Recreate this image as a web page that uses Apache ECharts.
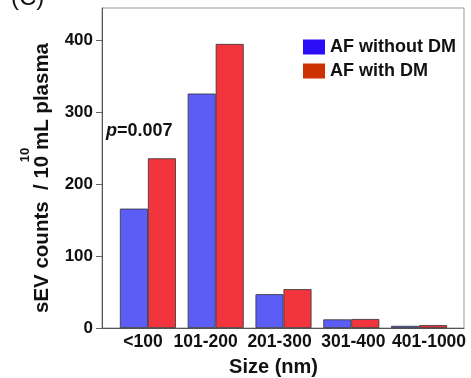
<!DOCTYPE html>
<html>
<head>
<meta charset="utf-8">
<script src="https://cdn.jsdelivr.net/npm/echarts@6/dist/echarts.min.js"></script>
<style>
  html, body { margin: 0; padding: 0; background: #fff; }
  #chart { width: 471px; height: 378px; }
</style>
</head>
<body>
<div id="chart"></div>
<script>
// size bins and the two groups
const categories = ["<100", "101-200", "201-300", "301-400", "401-1000"];
const withoutDM = [166, 326, 47, 12, 3];
const withDM = [236, 395, 54, 12.5, 4];
const yTicks = [0, 100, 200, 300, 400];

// in the original the bin labels are typed as one spaced string, so they sit a bit off the bars
const labelShift = [-5, -10, -4, 2, 10];

const FONT = "Liberation Sans, Arial, sans-serif";

const chart = echarts.init(document.getElementById("chart"), null, { renderer: "canvas" });

const option = {
  animation: false,
  textStyle: { fontFamily: FONT },
  grid: [
    // frame + y axis
    { left: 102, right: 7, top: 8, bottom: 50, show: true, borderColor: "#999", borderWidth: 1,
      backgroundColor: "transparent", outerBoundsMode: "none" },
    // bars (inset a bit from the frame)
    { left: 114, right: 18, top: 8, bottom: 50, outerBoundsMode: "none" }
  ],
  legend: {
    orient: "vertical",
    left: 298,
    top: 33,
    itemWidth: 22,
    itemHeight: 15,
    itemGap: 6,
    icon: "rect",
    textStyle: { fontFamily: FONT, fontSize: 18, fontWeight: "bold", color: "#111", lineHeight: 18 },
    data: [
      { name: "AF without DM", itemStyle: { color: "#2a0cf6", borderWidth: 0 } },
      { name: "AF with DM", itemStyle: { color: "#cc3300", borderWidth: 0 } }
    ]
  },
  xAxis: [
    {
      gridIndex: 0, type: "value", min: 0, max: 1,
      axisLine: { show: true, lineStyle: { color: "#555", width: 1 } },
      axisTick: { show: false }, axisLabel: { show: false }, splitLine: { show: false }
    },
    {
      gridIndex: 1, type: "category",
      data: categories.map(function (c, i) {
        const d = labelShift[i];
        return { value: c, textStyle: { padding: d > 0 ? [0, 0, 0, 2 * d] : [0, -2 * d, 0, 0] } };
      }),
      axisLine: { show: false }, axisTick: { show: false },
      axisLabel: { interval: 0, margin: 5, fontFamily: FONT, fontSize: 17.5, fontWeight: "bold", color: "#111" },
      name: "Size (nm)", nameLocation: "middle", nameGap: 29,
      nameTextStyle: { fontFamily: FONT, fontSize: 20, fontWeight: "bold", color: "#111", padding: [0, 20, 0, 0] }
    }
  ],
  yAxis: [
    {
      gridIndex: 0, type: "value", min: 0, max: 445, interval: 100,
      axisLine: { show: true, lineStyle: { color: "#555", width: 1 } },
      axisTick: { show: true, length: 6, customValues: yTicks, lineStyle: { color: "#666" } },
      axisLabel: { margin: 9, customValues: yTicks, fontFamily: FONT, fontSize: 17, fontWeight: "bold", color: "#111" },
      splitLine: { show: false },
      name: "sEV counts  / 10 mL plasma", nameLocation: "middle", nameGap: 49, nameRotate: 90,
      nameTextStyle: { fontFamily: FONT, fontSize: 20.5, fontWeight: "bold", color: "#111", padding: [0, 20, 0, 0] }
    },
    {
      gridIndex: 1, type: "value", min: 0, max: 445, show: false
    }
  ],
  series: [
    {
      name: "AF without DM", type: "bar", xAxisIndex: 1, yAxisIndex: 1,
      data: withoutDM, barWidth: 28, barGap: "0%",
      itemStyle: { color: "#5b5df6", borderColor: "#333", borderWidth: 0.8 }
    },
    {
      name: "AF with DM", type: "bar", xAxisIndex: 1, yAxisIndex: 1,
      data: withDM, barWidth: 28, barGap: "0%",
      itemStyle: { color: "#f1343e", borderColor: "#333", borderWidth: 0.8 }
    }
  ],
  graphic: [
    // panel letter, cut off at the top edge
    { type: "text", left: 11, top: -14, style: { text: "(C)", font: "24px " + FONT, fill: "#111" } },
    // superscript of the y title
    { type: "text", x: 25, y: 155, rotation: Math.PI / 2, style: { text: "10", font: "bold 13px " + FONT, fill: "#111", align: "center", verticalAlign: "middle" } },
    // p value
    {
      type: "text", x: 106, y: 131,
      style: {
        text: "{i|p}=0.007", verticalAlign: "middle", fill: "#111",
        font: "bold 18px " + FONT,
        rich: { i: { fontStyle: "italic", fontWeight: "bold", fontSize: 18, fontFamily: FONT } }
      }
    }
  ]
};

chart.setOption(option);
</script>
</body>
</html>
